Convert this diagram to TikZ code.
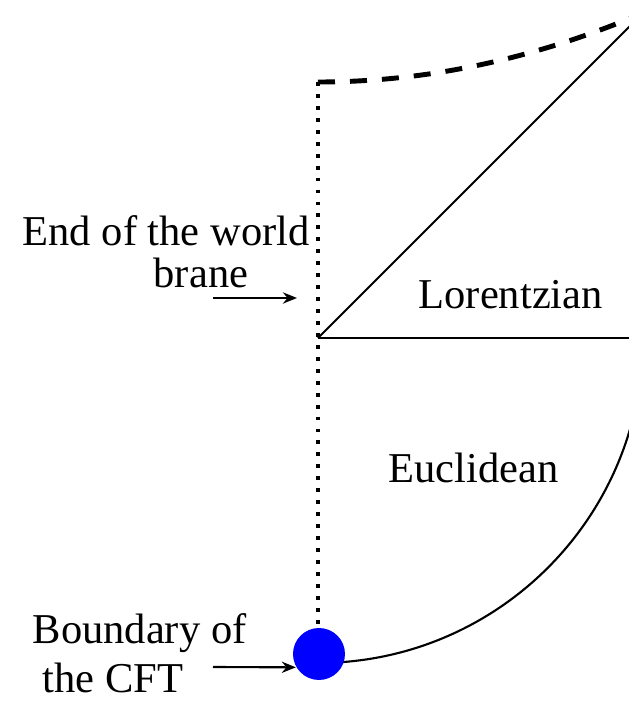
\documentclass[tikz,border=0pt]{standalone}
\usepackage{fontspec}
\setmainfont{Liberation Serif}
\usetikzlibrary{arrows.meta,calc}
\begin{document}
\begin{tikzpicture}[>={Stealth[length=4pt,width=3.2pt]},line join=round,font=\fontsize{12.1}{14.5}\selectfont,
	lbl/.style={anchor=base west,inner sep=0pt},
	eowline/.style={line width=1.1pt,dash pattern=on 1.1pt off 2.3pt},
	futline/.style={line width=1.4pt,dash pattern=on 0.17cm off 0.15cm},
	bdot/.style={circle,fill=blue,minimum size=0.52cm,inner sep=0pt}]
	\useasboundingbox (0,0) rectangle (6.29,7.03);
	\clip (0,0) rectangle (6.29,7.03);
	\path
	(3.18,3.65) coordinate (O)
	(3.18,6.21) coordinate (T)
	(6.43,6.90) coordinate (R)
	(6.45,3.65) coordinate (H)
	(2.13,4.05) coordinate (tailA)
	(2.97,4.05) coordinate (tipA)
	(2.13,0.36) coordinate (tailB);
	\draw[line width=0.75pt] (O) -- (H);
	\draw[line width=0.6pt] (O) -- (R);
	\draw[futline] (T) .. controls ($(T)+(1.083,0)$) and ($(R)+(-1.083,-0.46)$) .. (R);
	\draw[line width=0.6pt] (O) ++(-90:3.25) arc (-90:0:3.25);
	\draw[eowline] (T) -- (3.18,0.49);
	\node[bdot] (cft) at (3.19,0.49) {};
	% labels
	\node[lbl] (worldlbl) at (0.22,4.58) {End of the world};
	\node[lbl] (branelbl) at (1.53,4.16) {brane};
	\node[lbl] (lorlbl) at (4.18,3.95) {Lorentzian};
	\node[lbl] (euclbl) at (3.88,2.21) {Euclidean};
	\node[lbl] (bdrylbl) at (0.32,0.60) {Boundary of};
	\node[lbl] (cftlbl) at (0.42,0.10) {the CFT};
	\draw[->,line width=0.6pt] (tailA) -- (tipA);
	\draw[->,line width=0.6pt] (tailB) -- (cft.210);
\end{tikzpicture}
\end{document}
